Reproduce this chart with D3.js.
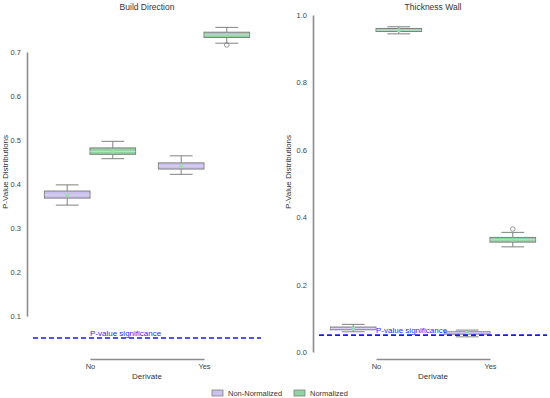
<!DOCTYPE html>
<html><head><meta charset="utf-8">
<script src="https://cdn.jsdelivr.net/npm/d3@7"></script>
<style>body{margin:0;background:#fff}svg{font-family:"Liberation Sans",Arial,sans-serif}</style>
</head><body><div id="chart"></div>
<script>
const categories = ["No", "Yes"];
const hues = ["Non-Normalized", "Normalized"];
const panelTitles = ["Build Direction", "Thickness Wall"];
const yTicksBuild = [0.1, 0.2, 0.3, 0.4, 0.5, 0.6, 0.7];
const yTicksThick = [0.0, 0.2, 0.4, 0.6, 0.8, 1.0];
const significance = 0.05;
// [whiskerLow, q1, median, q3, whiskerHigh, mean]
const buildNonNorm = [[0.352, 0.368, 0.375, 0.384, 0.398, 0.375], [0.422, 0.434, 0.441, 0.448, 0.464, 0.441]];
const buildNorm = [[0.4575, 0.4675, 0.474, 0.482, 0.497, 0.474], [0.720, 0.733, 0.739, 0.745, 0.756, 0.739]];
const buildOutliers = [[[], []], [[], [0.716]]];
const thickNonNorm = [[0.060, 0.066, 0.070, 0.074, 0.082, 0.070], [0.045, 0.053, 0.057, 0.060, 0.065, 0.057]];
const thickNorm = [[0.944, 0.951, 0.955, 0.960, 0.965, 0.955], [0.312, 0.326, 0.333, 0.340, 0.355, 0.333]];
const thickOutliers = [[[], []], [[], [0.365]]];

const W = 550, H = 398;
const svg = d3.select("#chart").append("svg").attr("width", W).attr("height", H);
const colors = {"Non-Normalized": "#cbc1ef", "Normalized": "#92d3a2"};
const edge = "#808080";

const panels = [
  {title: panelTitles[0], ticks: yTicksBuild, domain: [0.1, 0.7], yr: [316, 52], xr: [33, 261], axisX: 27, data: [buildNonNorm, buildNorm], out: buildOutliers, labelX: 8, fmt: d3.format(".1f")},
  {title: panelTitles[1], ticks: yTicksThick, domain: [0, 1], yr: [352, 15], xr: [319, 547], axisX: 313, data: [thickNonNorm, thickNorm], out: thickOutliers, labelX: 291, fmt: d3.format(".1f")}
];

panels.forEach(p => {
  const g = svg.append("g");
  const y = d3.scaleLinear().domain(p.domain).range(p.yr);
  const x = d3.scaleBand().domain(categories).range(p.xr).padding(0);
  const hx = d3.scaleBand().domain(hues).range([0, x.bandwidth() * 0.8]);
  const xc = d => x(d) + x.bandwidth() / 2;

  // title
  g.append("text").attr("x", (p.xr[0] + p.xr[1]) / 2).attr("y", 10).attr("text-anchor", "middle")
    .attr("font-size", 8.5).attr("fill", "#333").text(p.title);

  // y axis
  const ya = g.append("g").attr("transform", `translate(${p.axisX},0)`)
    .call(d3.axisLeft(y).tickValues(p.ticks).tickFormat(p.fmt).tickSize(0).tickPadding(6));
  ya.select(".domain").attr("stroke", "#8c8c8c").attr("stroke-width", 1.6);
  ya.selectAll("text").attr("font-size", 7.5).attr("fill", "#444").attr("font-family", "Liberation Sans, Arial, sans-serif");

  // y label
  g.append("text").attr("transform", `translate(${p.labelX},172) rotate(-90)`).attr("text-anchor", "middle")
    .attr("font-size", 8).attr("fill", "#333").text("P-Value Distributions");

  // x axis (trimmed)
  const xa = g.append("g").attr("transform", `translate(0,359)`)
    .call(d3.axisBottom(d3.scalePoint().domain(categories).range([xc("No"), xc("Yes")])).tickSize(0).tickPadding(5));
  xa.select(".domain").attr("stroke", "#8c8c8c").attr("stroke-width", 1.6);
  xa.selectAll("text").attr("font-size", 7.5).attr("fill", "#444").attr("font-family", "Liberation Sans, Arial, sans-serif");
  g.append("text").attr("x", (p.xr[0] + p.xr[1]) / 2).attr("y", 379).attr("text-anchor", "middle")
    .attr("font-size", 8).attr("fill", "#333").text("Derivate");

  // boxes
  hues.forEach((h, hi) => {
    categories.forEach((c, ci) => {
      const s = p.data[hi][ci];
      const x0 = x(c) + x.bandwidth() * 0.1 + hx(h);
      const bw = hx.bandwidth();
      const cx = x0 + bw / 2;
      const bg = g.append("g");
      bg.append("line").attr("x1", cx).attr("x2", cx).attr("y1", y(s[0])).attr("y2", y(s[1])).attr("stroke", edge).attr("stroke-width", 1);
      bg.append("line").attr("x1", cx).attr("x2", cx).attr("y1", y(s[3])).attr("y2", y(s[4])).attr("stroke", edge).attr("stroke-width", 1);
      [s[0], s[4]].forEach(v => bg.append("line").attr("x1", cx - bw / 4).attr("x2", cx + bw / 4).attr("y1", y(v)).attr("y2", y(v)).attr("stroke", edge).attr("stroke-width", 1));
      bg.append("rect").attr("x", x0).attr("y", y(s[3])).attr("width", bw).attr("height", Math.max(1, y(s[1]) - y(s[3])))
        .attr("fill", colors[h]).attr("stroke", edge).attr("stroke-width", 1);
      bg.append("line").attr("x1", x0).attr("x2", x0 + bw).attr("y1", y(s[2])).attr("y2", y(s[2])).attr("stroke", "#e6e0f8").attr("stroke-width", 0.8).attr("opacity", 0.8);
      bg.append("circle").attr("cx", cx).attr("cy", y(s[5])).attr("r", 2).attr("fill", "#9fdcae");
      p.out[ci][hi].forEach(v => bg.append("circle").attr("cx", cx).attr("cy", y(v)).attr("r", 2.3).attr("fill", "none").attr("stroke", edge).attr("stroke-width", 0.8));
    });
  });

  // significance line
  g.append("line").attr("x1", p.xr[0]).attr("x2", p.xr[1]).attr("y1", y(significance)).attr("y2", y(significance))
    .attr("stroke", "#1a1aee").attr("stroke-width", 1.6).attr("stroke-dasharray", "5,3");
  g.append("text").attr("x", xc("No")).attr("y", y(significance) - 2).attr("font-size", 8).attr("fill", "#2b2bee").text("P-value significance");
});

// legend
const legend = svg.append("g");
const legItems = [{name: hues[0], x: 212}, {name: hues[1], x: 294}];
legItems.forEach(it => {
  legend.append("rect").attr("x", it.x).attr("y", 390).attr("width", 11).attr("height", 6)
    .attr("fill", colors[it.name]).attr("stroke", edge).attr("stroke-width", 0.8);
  legend.append("text").attr("x", it.x + 16).attr("y", 396).attr("font-size", 7.5).attr("fill", "#333").text(it.name);
});
</script></body></html>
